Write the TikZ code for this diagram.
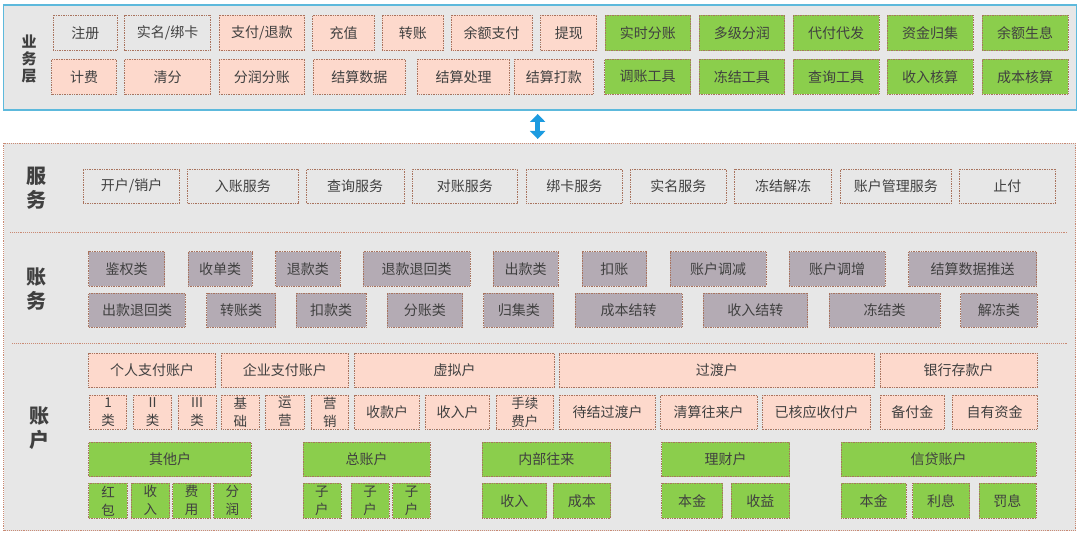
\documentclass[tikz,border=0pt]{standalone}
\usepackage{fontspec}
\setmainfont{Noto Sans CJK SC}
\usetikzlibrary{arrows.meta}
\definecolor{panelfill}{HTML}{E7E7E7}
\definecolor{topborder}{HTML}{5DB9DC}
\definecolor{pinkfill}{HTML}{FDD9CC}
\definecolor{greenfill}{HTML}{8BCE4C}
\definecolor{purplefill}{HTML}{B4ABB4}
\definecolor{dotborder}{HTML}{A8735E}
\definecolor{lowborder}{HTML}{C98A74}
\definecolor{txtgray}{HTML}{404040}
\definecolor{arrowblue}{HTML}{1C9BE0}
\newcommand{\mybox}[7]{%
  \pgfmathsetmacro{\mbw}{#5-#3}%
  \pgfmathsetmacro{\mbh}{#6-#4}%
  \pgfmathsetmacro{\mbx}{(#3+#5)/2}%
  \pgfmathsetmacro{\mby}{(#4+#6)/2}%
  \node[#2, minimum width=\mbw pt, minimum height=\mbh pt] (#1) at (\mbx,\mby) {#7};%
}
\begin{document}
\begin{tikzpicture}[x=1pt,y=-1pt,
  base/.style={inner sep=0pt, outer sep=0pt, text=txtgray, align=center,
    font=\fontsize{14}{18}\selectfont},
  dotbox/.style={base, draw=dotborder, line width=0.8pt, dash pattern=on 0.8pt off 0.9pt},
  graybox/.style={dotbox, fill=panelfill},
  pinkbox/.style={dotbox, fill=pinkfill},
  greenbox/.style={dotbox, fill=greenfill},
  purplebox/.style={dotbox, fill=purplefill},
  svcbox/.style={dotbox, fill=panelfill},
  twoline/.style={font=\fontsize{13.5}{18}\selectfont},
  toppanel/.style={inner sep=0pt, outer sep=0pt, fill=panelfill, draw=topborder, line width=1.5pt},
  lowpanel/.style={inner sep=0pt, outer sep=0pt, fill=panelfill, draw=lowborder, line width=0.9pt, dash pattern=on 0.8pt off 1.1pt},
  divider/.style={draw=lowborder, line width=0.9pt, dash pattern=on 0.8pt off 1.1pt},
  sidelabel/.style={inner sep=0pt, text=txtgray, align=center, font=\fontsize{20}{24}\selectfont\bfseries},
  toplabel/.style={inner sep=0pt, text=txtgray, align=center, font=\fontsize{15}{17}\selectfont\bfseries},
  dblarrow/.style={draw=arrowblue, line width=4.5pt,
    {Triangle[width=15pt,length=8pt]}-{Triangle[width=15pt,length=8pt]}}
]
\useasboundingbox (0,0) rectangle (1080,534);
\fill[white] (0,0) rectangle (1080,534);

% ---------- top panel ----------
\mybox{toppanel}{toppanel}{3.5}{5}{1076.5}{110}{}
\node[toplabel] (lblyw) at (29,59) {业\\务\\层};

\mybox{zhuce}{graybox}{53.4}{15}{117.1}{50.7}{注册}
\mybox{shiming}{graybox}{124.7}{15}{210.7}{50.7}{实名/绑卡}
\mybox{zhifu}{pinkbox}{219}{15}{304.8}{50.7}{支付/退款}
\mybox{chongzhi}{pinkbox}{312.7}{15}{374.3}{50.7}{充值}
\mybox{zhuanzhang}{pinkbox}{382.2}{15}{443.5}{50.7}{转账}
\mybox{yuezhifu}{pinkbox}{451.4}{15}{532}{50.7}{余额支付}
\mybox{tixian}{pinkbox}{540.7}{15}{596.8}{50.7}{提现}
\mybox{shishi}{greenbox}{605.4}{15}{690.5}{50.7}{实时分账}
\mybox{duoji}{greenbox}{699.1}{15}{784.5}{50.7}{多级分润}
\mybox{daifu}{greenbox}{793.1}{15}{879.2}{50.7}{代付代发}
\mybox{guiji}{greenbox}{887.1}{15}{973.2}{50.7}{资金归集}
\mybox{shengxi}{greenbox}{982}{15}{1068}{50.7}{余额生息}

\mybox{jifei}{pinkbox}{51.7}{59.3}{116.4}{94.3}{计费}
\mybox{qingfen}{pinkbox}{124.7}{59.3}{210.7}{94.3}{清分}
\mybox{fenrun}{pinkbox}{219}{59.3}{304.8}{94.3}{分润分账}
\mybox{jsshuju}{pinkbox}{313.4}{59.3}{405.3}{94.3}{结算数据}
\mybox{jschuli}{pinkbox}{417.4}{59.3}{509.6}{94.3}{结算处理}
\mybox{jsdakuan}{pinkbox}{514.1}{59.3}{593.4}{94.3}{结算打款}
\mybox{tiaozhang}{greenbox}{604.7}{59.3}{690.5}{94.3}{调账工具}
\mybox{dongjiegj}{greenbox}{699}{59.3}{784.5}{94.3}{冻结工具}
\mybox{chaxungj}{greenbox}{793}{59.3}{879}{94.3}{查询工具}
\mybox{shouruhs}{greenbox}{887}{59.3}{973}{94.3}{收入核算}
\mybox{chengbenhs}{greenbox}{982}{59.3}{1068}{94.3}{成本核算}

% ---------- arrow ----------
\coordinate (arrtop) at (537.7,114);
\coordinate (arrbot) at (537.7,139);
\draw[dblarrow] (arrtop) -- (arrbot);

% ---------- lower panel ----------
\mybox{lowpanel}{lowpanel}{3.5}{143.3}{1075.5}{530.7}{}
\coordinate (divAa) at (10,232.7);
\coordinate (divAb) at (1068,232.7);
\coordinate (divBa) at (12,343.3);
\coordinate (divBb) at (1068,343.3);
\draw[divider] (divAa) -- (divAb);
\draw[divider] (divBa) -- (divBb);

% services
\node[sidelabel] (lblfw) at (37,188) {服\\务};
\mybox{kaihu}{svcbox}{83.3}{169.3}{179.8}{203.3}{开户/销户}
\mybox{ruzhang}{svcbox}{187.7}{169.3}{298.2}{203.3}{入账服务}
\mybox{chaxunfw}{svcbox}{306.5}{169.3}{403.9}{203.3}{查询服务}
\mybox{duizhang}{svcbox}{412.2}{169.3}{517.6}{203.3}{对账服务}
\mybox{bangka}{svcbox}{526.2}{169.3}{622.6}{203.3}{绑卡服务}
\mybox{shimingfw}{svcbox}{630.2}{169.3}{726.6}{203.3}{实名服务}
\mybox{dongjiejd}{svcbox}{734.6}{169.3}{831.7}{203.3}{冻结解冻}
\mybox{zhgl}{svcbox}{840.3}{169.3}{951.5}{203.3}{账户管理服务}
\mybox{zhifu2}{svcbox}{959.4}{169.3}{1055.5}{203.3}{止付}

% accounting
\node[sidelabel] (lblzw) at (37,289.5) {账\\务};
\mybox{jianquan}{purplebox}{88.8}{251.7}{164.6}{286}{鉴权类}
\mybox{shoudan}{purplebox}{188}{251.7}{252.4}{286}{收单类}
\mybox{tuikuan}{purplebox}{275.5}{251.7}{340.2}{286}{退款类}
\mybox{tkth}{purplebox}{363.3}{251.7}{470}{286}{退款退回类}
\mybox{chukuan}{purplebox}{493.1}{251.7}{557.9}{286}{出款类}
\mybox{kouzhang}{purplebox}{582}{251.7}{646.7}{286}{扣账}
\mybox{tiaojian}{purplebox}{670.2}{251.7}{766.2}{286}{账户调减}
\mybox{tiaozeng}{purplebox}{789}{251.7}{885.4}{286}{账户调增}
\mybox{tuisong}{purplebox}{908.5}{251.7}{1036.6}{286}{结算数据推送}

\mybox{ckth}{purplebox}{88.8}{293.3}{185.3}{327.3}{出款退回类}
\mybox{zhuanzl}{purplebox}{206.6}{293.3}{275.5}{327.3}{转账类}
\mybox{koukuan}{purplebox}{296.1}{293.3}{366}{327.3}{扣款类}
\mybox{fenzhang}{purplebox}{387.4}{293.3}{462.5}{327.3}{分账类}
\mybox{guijil}{purplebox}{483.8}{293.3}{553.8}{327.3}{归集类}
\mybox{cbjz}{purplebox}{575.1}{293.3}{681.9}{327.3}{成本结转}
\mybox{srjz}{purplebox}{702.9}{293.3}{807.6}{327.3}{收入结转}
\mybox{dongjiel}{purplebox}{829.3}{293.3}{940.1}{327.3}{冻结类}
\mybox{jiedong}{purplebox}{960.8}{293.3}{1036.9}{327.3}{解冻类}

% accounts
\node[sidelabel] (lblzh) at (40,428) {账\\户};
\mybox{geren}{pinkbox}{88.8}{353.3}{215.6}{387.7}{个人支付账户}
\mybox{qiye}{pinkbox}{221.1}{353.3}{348.5}{387.7}{企业支付账户}
\mybox{xuni}{pinkbox}{354.7}{353.3}{554.5}{387.7}{虚拟户}
\mybox{guodu}{pinkbox}{558.9}{353.3}{874.7}{387.7}{过渡户}
\mybox{yinhang}{pinkbox}{880.2}{353.3}{1036.9}{387.7}{银行存款户}

\mybox{lei1}{pinkbox,twoline}{89.5}{395}{126.7}{429.3}{1\\类}
\mybox{lei2}{pinkbox,twoline}{133.6}{395}{171.5}{429.3}{II\\类}
\mybox{lei3}{pinkbox,twoline}{178.4}{395}{215.9}{429.3}{III\\类}
\mybox{jichu}{pinkbox,twoline}{221.4}{395}{259.3}{429.3}{基\\础}
\mybox{yunying}{pinkbox,twoline}{265.8}{395}{304.1}{429.3}{运\\营}
\mybox{yingxiao}{pinkbox,twoline}{311}{395}{348.5}{429.3}{营\\销}
\mybox{shoukuan}{pinkbox}{354.7}{395}{419.4}{429.3}{收款户}
\mybox{shouruhu}{pinkbox}{425.3}{395}{489.7}{429.3}{收入户}
\mybox{shouxu}{pinkbox,twoline}{495.9}{395}{553.8}{429.3}{手续\\费户}
\mybox{daijie}{pinkbox}{559.6}{395}{655.4}{429.3}{待结过渡户}
\mybox{qingsuan}{pinkbox}{660.5}{395}{756.9}{429.3}{清算往来户}
\mybox{yihe}{pinkbox}{762.8}{395}{870.6}{429.3}{已核应收付户}
\mybox{beifu}{pinkbox}{880.2}{395}{944.6}{429.3}{备付金}
\mybox{ziyou}{pinkbox}{952.2}{395}{1036.9}{429.3}{自有资金}

\mybox{qita}{greenbox}{88.8}{442.3}{251.4}{476.7}{其他户}
\mybox{zongzh}{greenbox}{303}{442.3}{430.4}{476.7}{总账户}
\mybox{neibu}{greenbox}{482.1}{442.3}{610.6}{476.7}{内部往来}
\mybox{licai}{greenbox}{661.6}{442.3}{789.7}{476.7}{理财户}
\mybox{xindai}{greenbox}{841.3}{442.3}{1035.9}{476.7}{信贷账户}

\mybox{hongbao}{greenbox,twoline}{88.8}{483.3}{127.4}{518.3}{红\\包}
\mybox{shouru2}{greenbox,twoline}{131}{483.3}{169.5}{518.3}{收\\入}
\mybox{feiyong}{greenbox,twoline}{172.5}{483.3}{210.7}{518.3}{费\\用}
\mybox{fenrun2}{greenbox,twoline}{213.5}{483.3}{251.4}{518.3}{分\\润}
\mybox{zihu1}{greenbox,twoline}{303}{483.3}{340.9}{518.3}{子\\户}
\mybox{zihu2}{greenbox,twoline}{351.2}{483.3}{389.1}{518.3}{子\\户}
\mybox{zihu3}{greenbox,twoline}{392.6}{483.3}{430.4}{518.3}{子\\户}
\mybox{shouru3}{greenbox}{482.1}{483.3}{546.5}{518.3}{收入}
\mybox{chengben}{greenbox}{553.1}{483.3}{610.6}{518.3}{成本}
\mybox{benjin1}{greenbox}{661.6}{483.3}{722.5}{518.3}{本金}
\mybox{shouyi}{greenbox}{731.1}{483.3}{789.7}{518.3}{收益}
\mybox{benjin2}{greenbox}{841.3}{483.3}{906}{518.3}{本金}
\mybox{lixi}{greenbox}{912.6}{483.3}{969.8}{518.3}{利息}
\mybox{faxi}{greenbox}{979}{483.3}{1035.9}{518.3}{罚息}
\end{tikzpicture}
\end{document}
